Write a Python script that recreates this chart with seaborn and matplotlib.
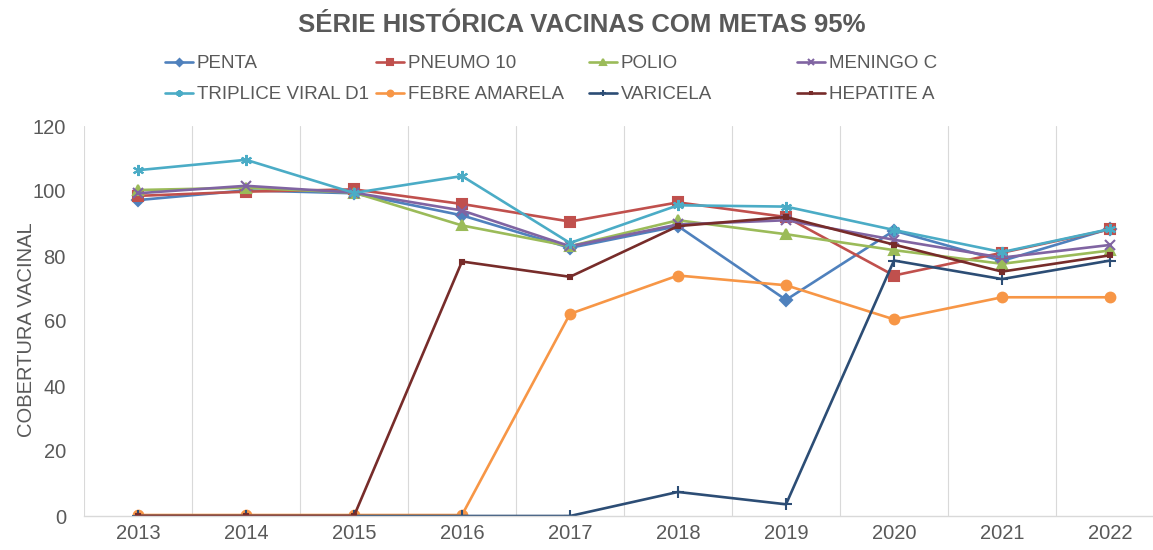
import numpy as np
import pandas as pd
import matplotlib
matplotlib.use("Agg")
import matplotlib.pyplot as plt
import seaborn as sns

# ==============================================================================
# DADOS
# ==============================================================================
anos = [2013, 2014, 2015, 2016, 2017, 2018, 2019, 2020, 2021, 2022]

penta = [97.2, 100.2, 99.3, 92.5, 82.5, 89.2, 66.5, 87.8, 78.5, 88.4]
pneumo_10 = [98.5, 99.8, 100.5, 96.0, 90.6, 96.5, 92.0, 74.0, 81.0, 88.2]
polio = [100.3, 101.0, 99.5, 89.4, 83.0, 91.0, 86.7, 81.8, 77.6, 81.7]
meningo_c = [99.3, 101.6, 99.5, 94.0, 83.0, 89.7, 91.0, 85.0, 79.5, 83.4]
triplice_viral_d1 = [106.4, 109.6, 99.4, 104.6, 84.0, 95.6, 95.2, 88.0, 81.2, 88.3]
febre_amarela = [0.3, 0.3, 0.3, 0.3, 62.2, 74.0, 71.0, 60.5, 67.3, 67.3]
varicela = [0, 0, 0, 0, 0, 7.4, 3.6, 78.6, 72.9, 78.6]
hepatite_a = [0, 0, 0, 78.3, 73.6, 89.2, 92.0, 83.5, 75.2, 80.2]

series = [
    ("PENTA", penta, "#4F81BD", "D", 6),
    ("PNEUMO 10", pneumo_10, "#C0504D", "s", 6.5),
    ("POLIO", polio, "#9BBB59", "^", 7),
    ("MENINGO C", meningo_c, "#8064A2", "x", 7),
    ("TRIPLICE VIRAL D1", triplice_viral_d1, "#4BACC6", (6, 2, 0), 8),
    ("FEBRE AMARELA", febre_amarela, "#F79646", "o", 7),
    ("VARICELA", varicela, "#2C4D75", "+", 8),
    ("HEPATITE A", hepatite_a, "#772C2A", "s", 3),
]

# ==============================================================================
# GRÁFICO
# ==============================================================================
sns.set_style("white")
plt.rcParams['font.family'] = ['Liberation Sans', 'DejaVu Sans']

cinza = "#595959"
fig = plt.figure(figsize=(11.53, 5.5), dpi=100)
ax = fig.add_axes([84 / 1153, 34 / 550, 1080 / 1153, 390 / 550])

handles = []
for nome, valores, cor, marcador, tam in series:
    sns.lineplot(x=anos, y=valores, ax=ax, color=cor, marker=marcador,
                 markersize=tam, markeredgecolor=cor, markeredgewidth=1.5,
                 linewidth=1.9, label=nome, legend=False)
    handles.append(ax.lines[-1])

ax.set_xlim(2012.5, 2022.5)
ax.set_ylim(0, 120)
ax.set_xticks(anos)
ax.set_xticks(np.arange(2012.5, 2023, 1), minor=True)
ax.set_yticks(range(0, 121, 20))
ax.grid(which="minor", axis="x", color="#D9D9D9", linewidth=0.8)
ax.grid(which="major", visible=False)
ax.tick_params(axis="both", which="both", length=0, labelsize=14.5,
               labelcolor=cinza)
ax.tick_params(axis="y", pad=13)
ax.tick_params(axis="x", pad=6)
for lado in ["top", "right", "left"]:
    ax.spines[lado].set_visible(False)
ax.spines["bottom"].set_color("#D9D9D9")
ax.spines["bottom"].set_linewidth(1)
ax.set_xlabel("")
ax.set_ylabel("COBERTURA VACINAL", fontsize=14.5, color=cinza)
ax.yaxis.set_label_coords((36 - 84) / 1080, 0.477)

fig.text(582 / 1153, 1 - 32 / 550, "SÉRIE HISTÓRICA VACINAS COM METAS 95%",
         ha="center", va="baseline", fontsize=18.5, fontweight="bold",
         color=cinza)

# Legenda em 4 colunas (largura fixa como no Excel)
col_x = [165, 376, 589, 797]
for i, x in enumerate(col_x):
    hs = [handles[i], handles[i + 4]]
    leg = fig.legend(hs, [h.get_label() for h in hs], loc="upper left",
                     bbox_to_anchor=(x / 1153, 1 - 55 / 550), frameon=False,
                     fontsize=13.5, borderpad=0, borderaxespad=0,
                     handlelength=1.5, handletextpad=0.2, labelspacing=0.75,
                     markerscale=0.6)
    for t in leg.get_texts():
        t.set_color(cinza)

plt.savefig("out.png", dpi=100)
